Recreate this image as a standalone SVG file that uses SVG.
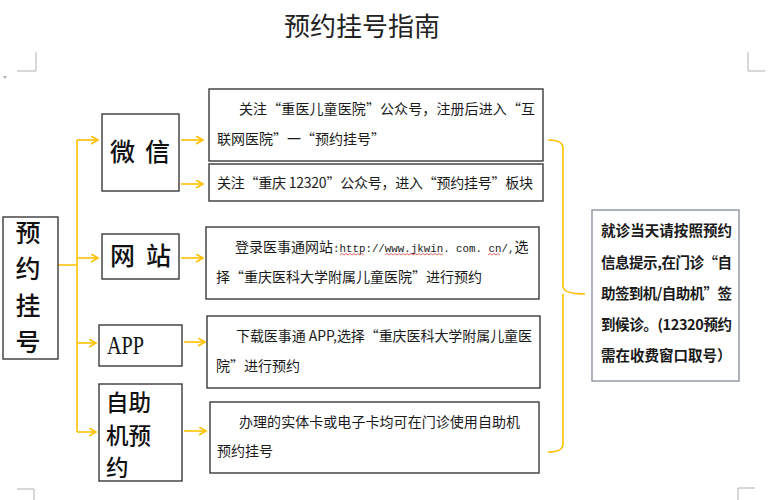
<svg xmlns="http://www.w3.org/2000/svg" width="774" height="500" viewBox="0 0 774 500">
<defs>
<style>
.bg{fill:#ffffff}
.box{fill:#ffffff;stroke:#3a3a3a;stroke-width:1.4}
.note{fill:#ffffff;stroke:#8a94a3;stroke-width:1.4}
.con{fill:none;stroke:#FFC000;stroke-width:1.6}
.arr{fill:none;stroke:#FFC000;stroke-width:1.6;marker-end:url(#ah)}
.mark{fill:none;stroke:#b0b0b0;stroke-width:1}
.t{font-family:"Noto Sans CJK SC","Noto Sans",sans-serif;font-size:14px;fill:#1a1a1a}
.big{font-family:"Noto Sans CJK SC","Noto Sans",sans-serif;font-size:25px;font-weight:500;fill:#111}
.kio{font-family:"Noto Sans CJK SC","Noto Sans",sans-serif;font-size:22.5px;font-weight:500;fill:#111}
.nt{font-family:"Noto Sans CJK SC","Noto Sans",sans-serif;font-size:14.5px;font-weight:bold;fill:#1a1a1a}
.title{font-family:"Noto Sans CJK SC","Noto Sans",sans-serif;font-size:26px;fill:#222}
.url{font-family:"Liberation Mono",monospace;font-size:10.8px}
.sq{fill:none;stroke:#e04040;stroke-width:0.8}
</style>
<marker id="ah" markerUnits="userSpaceOnUse" markerWidth="10" markerHeight="10" refX="7" refY="4" orient="auto">
<path d="M0,0 L7,4 L0,8" fill="none" stroke="#FFC000" stroke-width="1.6"/>
</marker>
</defs>
<rect class="bg" x="0" y="0" width="774" height="500"/>

<g id="page-marks">
<path class="mark" d="M17,71 H36 V52"/>
<path class="mark" d="M765,71 H748 V52"/>
<path class="mark" d="M17,489 H34 V500"/>
<path class="mark" d="M755,488 H738 V500"/>
<path d="M3,76 L7,76 L5,79 Z" fill="#b0b0b0"/>
</g>

<g id="title">
<text class="title" x="362" y="36" text-anchor="middle">预约挂号指南</text>
</g>

<g id="connectors">
<path class="con" d="M58,265 H77 M77,140 V432"/>
<path class="arr" d="M77,140 H98"/>
<path class="arr" d="M77,258 H98"/>
<path class="arr" d="M77,343 H96"/>
<path class="arr" d="M77,432 H96"/>
<path class="arr" d="M181,140 H203"/>
<path class="arr" d="M181,184 H203"/>
<path class="arr" d="M181,258 H203"/>
<path class="arr" d="M184,342 H205"/>
<path class="arr" d="M184,431 H206"/>
<path class="con" d="M548,140 Q563,140 563,148 V286 Q563,294 585,294 M563,294 V444 Q563,452 548,452"/>
</g>

<g id="node-main">
<rect class="box" x="3" y="217" width="55" height="142"/>
<text class="big" x="28" y="242" text-anchor="middle">预</text>
<text class="big" x="28" y="278" text-anchor="middle">约</text>
<text class="big" x="28" y="315" text-anchor="middle">挂</text>
<text class="big" x="28" y="351" text-anchor="middle">号</text>
</g>

<g id="node-wechat">
<rect class="box" x="102" y="114" width="77" height="77"/>
<text class="big" x="110" y="161">微</text>
<text class="big" x="145" y="161">信</text>
</g>

<g id="node-web">
<rect class="box" x="102" y="234" width="77" height="45"/>
<text class="big" x="110" y="265">网</text>
<text class="big" x="146" y="265">站</text>
</g>

<g id="node-app">
<rect class="box" x="99" y="325" width="83" height="41"/>
<text x="107" y="354" font-family="'Liberation Serif',serif" font-size="25" fill="#111" textLength="37" lengthAdjust="spacingAndGlyphs">APP</text>
</g>

<g id="node-kiosk">
<rect class="box" x="99" y="384" width="83" height="97"/>
<text class="kio" x="106" y="411">自助</text>
<text class="kio" x="106" y="443.5">机预</text>
<text class="kio" x="106" y="476">约</text>
</g>

<g id="node-wechat-1">
<rect class="box" x="209" y="89" width="334" height="72"/>
<text class="t" x="239" y="114" textLength="296" lengthAdjust="spacing">关注“重医儿童医院”公众号，注册后进入“互</text>
<text class="t" x="217" y="144">联网医院”一“预约挂号”</text>
</g>

<g id="node-wechat-2">
<rect class="box" x="209" y="164" width="334" height="37"/>
<text class="t" x="217" y="188" textLength="316" lengthAdjust="spacing">关注“重庆 12320”公众号，进入“预约挂号”板块</text>
</g>

<g id="node-web-desc">
<rect class="box" x="206" y="227" width="333" height="72"/>
<text class="t" x="235" y="252">登录医事通网站<tspan class="url">:http://www.jkwin. com. cn/,</tspan>选</text>
<path class="sq" d="M340,255 l2,-1.5 l2,1.5 l2,-1.5 l2,1.5 l2,-1.5 l2,1.5 l2,-1.5 l2,1.5 l2,-1.5 l2,1.5 l2,-1.5 l2,1.5"/>
<path class="sq" d="M385,255 l2,-1.5 l2,1.5 l2,-1.5 l2,1.5 l2,-1.5 l2,1.5 l2,-1.5 l2,1.5 l2,-1.5 l2,1.5 l2,-1.5 l2,1.5 l2,-1.5 l2,1.5 l2,-1.5 l2,1.5 l2,-1.5 l2,1.5 l2,-1.5 l2,1.5 l2,-1.5 l2,1.5 l2,-1.5 l2,1.5 l2,-1.5 l2,1.5 l2,-1.5 l2,1.5 l2,-1.5"/>
<path class="sq" d="M488,255 l2,-1.5 l2,1.5 l2,-1.5 l2,1.5 l2,-1.5 l2,1.5"/>
<text class="t" x="216" y="282">择“重庆医科大学附属儿童医院”进行预约</text>
</g>

<g id="node-app-desc">
<rect class="box" x="207" y="316" width="333" height="72"/>
<text class="t" x="236" y="341" textLength="296" lengthAdjust="spacing">下载医事通 APP,选择“重庆医科大学附属儿童医</text>
<text class="t" x="216" y="371">院”进行预约</text>
</g>

<g id="node-kiosk-desc">
<rect class="box" x="210" y="402" width="329" height="71"/>
<text class="t" x="239" y="427" textLength="281" lengthAdjust="spacing">办理的实体卡或电子卡均可在门诊使用自助机</text>
<text class="t" x="217" y="456">预约挂号</text>
</g>

<g id="node-note">
<rect class="note" x="592" y="210" width="147" height="171"/>
<text class="nt" x="601" y="236" textLength="131" lengthAdjust="spacing">就诊当天请按照预约</text>
<text class="nt" x="601" y="268" textLength="131" lengthAdjust="spacing">信息提示,在门诊“自</text>
<text class="nt" x="601" y="299" textLength="131" lengthAdjust="spacing">助签到机/自助机”签</text>
<text class="nt" x="601" y="330" textLength="131" lengthAdjust="spacing">到候诊。(12320预约</text>
<text class="nt" x="601" y="361">需在收费窗口取号）</text>
</g>
</svg>
